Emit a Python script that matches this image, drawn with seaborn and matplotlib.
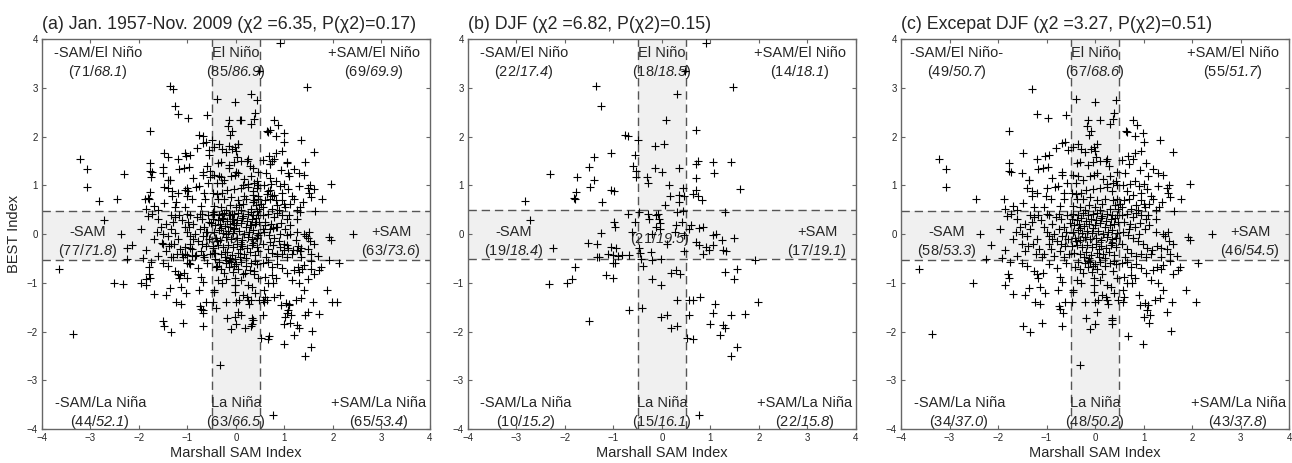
import matplotlib
matplotlib.use("Agg")
import matplotlib.pyplot as plt
import numpy as np
import pandas as pd
import seaborn as sns

# Marshall SAM index vs BEST index, monthly values
# December-January-February months
djf_points = [
    # -SAM / El Nino
    (-1.37, 3.04), (-1.25, 2.63), (-0.77, 2.03), (-0.69, 2.01), (-1.05, 1.67), (-0.56, 1.62),
    (-1.40, 1.57), (-1.51, 1.38), (-1.41, 1.11), (-1.48, 0.96), (-2.31, 1.23), (-1.76, 1.18),
    (-1.78, 0.86), (-1.82, 0.73), (-1.80, 0.71), (-1.24, 0.66), (-2.83, 0.68), (-1.05, 0.90),
    (-0.98, 0.88), (-0.59, 1.40), (-0.53, 1.30), (-0.53, 1.18),
    # El Nino
    (0.31, 2.87), (0.09, 2.33), (-0.49, 1.93), (-0.15, 1.81), (0.05, 1.84), (-0.31, 1.18),
    (-0.29, 1.04), (-0.15, 1.35), (0.00, 1.28), (0.35, 1.35), (0.15, 1.00), (0.43, 0.94),
    (0.36, 0.80), (0.17, 0.79), (0.35, 0.65), (0.07, 0.60), (0.48, 3.35), (0.45, 0.78),
    # +SAM / El Nino
    (0.90, 3.92), (1.46, 3.01), (0.70, 2.14), (0.74, 1.49), (0.70, 1.44), (0.70, 1.14),
    (1.06, 1.47), (1.08, 1.25), (1.43, 1.48), (1.61, 0.92), (0.64, 0.82), (0.70, 0.90),
    (0.74, 0.77), (0.83, 0.70),
    # -SAM
    (-2.73, 0.29), (-0.70, 0.42), (-0.98, 0.25), (-0.97, 0.15), (-1.25, 0.03), (-2.24, -0.29),
    (-1.53, -0.18), (-1.34, -0.21), (-1.34, -0.47), (-1.05, -0.26), (-0.94, -0.28), (-1.12, -0.40),
    (-1.01, -0.43), (-0.91, -0.45), (-0.83, -0.44), (-0.67, -0.43), (-1.30, -0.47), (-0.55, 0.25),
    (-0.62, 0.05),
    # neutral
    (-0.48, 0.46), (-0.29, 0.42), (-0.09, 0.42), (0.31, 0.46), (0.44, 0.47), (-0.26, 0.31),
    (-0.12, 0.38), (-0.07, 0.30), (-0.05, 0.22), (-0.12, 0.15), (-0.04, 0.11), (0.29, 0.18),
    (0.42, 0.24), (0.46, -0.02), (0.26, 0.05), (-0.48, -0.29), (-0.46, -0.38), (-0.22, -0.36),
    (0.46, -0.34), (-0.20, 0.00), (0.10, -0.20),
    # +SAM
    (1.31, 0.45), (0.60, 0.18), (0.77, 0.13), (0.84, 0.15), (1.05, -0.02), (1.12, 0.00),
    (1.23, -0.12), (1.49, -0.08), (0.71, -0.16), (0.76, -0.23), (0.91, -0.26), (1.05, -0.23),
    (0.98, -0.33), (0.84, -0.40), (1.25, -0.33), (1.32, -0.35), (0.55, 0.10),
    # -SAM / La Nina
    (-0.97, -0.59), (-1.01, -0.60), (-1.80, -0.67), (-2.33, -1.03), (-1.96, -1.00), (-1.85, -0.92),
    (-1.15, -0.84), (-1.01, -0.91), (-1.51, -1.78), (-0.67, -1.56),
    # La Nina
    (-0.43, -0.52), (-0.20, -0.53), (-0.02, -0.52), (0.31, -1.88), (-0.40, -0.66), (-0.41, -1.51),
    (-0.20, -0.93), (-0.02, -1.05), (0.19, -0.79), (0.29, -0.73), (0.37, -0.82), (0.31, -1.36),
    (-0.02, -1.71), (0.10, -1.66), (0.19, -1.92),
    # +SAM / La Nina
    (1.91, -0.53), (0.51, -2.14), (0.65, -2.16), (0.55, -1.36), (0.64, -1.36), (0.79, -1.30),
    (0.56, -1.66), (1.10, -1.44), (1.05, -1.62), (1.00, -1.84), (1.25, -1.87), (1.29, -1.92),
    (1.20, -2.08), (1.43, -1.66), (1.72, -1.64), (1.99, -1.39), (1.55, -2.32), (1.43, -2.51),
    (1.29, -0.77), (1.55, -0.71), (1.48, -0.93), (0.76, -3.72),
]

# all other months
other_points = [
    # -SAM / El Nino
    (-1.29, 2.97), (-1.19, 2.46), (-0.98, 2.38), (-0.60, 2.45), (-1.77, 2.12), (-3.21, 1.53),
    (-3.07, 1.33), (-3.08, 0.97), (-1.48, 1.67), (-1.77, 1.45), (-1.77, 1.30), (-1.74, 1.28),
    (-1.20, 1.53), (-1.03, 1.60), (-0.94, 1.62), (-0.80, 1.76), (-0.69, 1.86), (-0.62, 1.88),
    (-1.51, 1.25), (-1.37, 1.11), (-1.17, 1.33), (-1.08, 1.35), (-0.96, 1.38), (-1.41, 0.94),
    (-1.31, 0.89), (-1.20, 0.84), (-1.31, 0.77), (-1.00, 0.94), (-1.01, 0.77), (-0.82, 0.97),
    (-0.76, 0.99), (-0.65, 0.84), (-0.64, 0.71), (-0.68, 1.28), (-0.68, 1.21), (-2.45, 0.71),
    (-1.88, 0.71), (-1.48, 0.63), (-0.55, 1.72), (-1.36, 1.10), (-0.90, 0.72), (-1.05, 0.56),
    (-1.85, 0.52), (-1.70, 0.58), (-0.72, 0.58), (-1.25, 0.55), (-0.58, 1.05), (-0.88, 1.15),
    (-1.60, 0.50),
    # El Nino
    (-0.39, 2.77), (-0.01, 2.70), (0.43, 2.74), (0.39, 2.49), (-0.14, 2.33), (0.10, 2.33),
    (0.30, 2.26), (0.38, 2.36), (-0.17, 2.21), (-0.09, 2.12), (-0.12, 2.03),
    (-0.45, 1.78), (-0.35, 1.85), (-0.28, 1.75), (-0.20, 1.68), (-0.08, 1.75), (-0.03, 1.78),
    (0.05, 1.85), (0.00, 1.70), (0.03, 1.58), (0.24, 1.53), (0.23, 1.49), (-0.38, 1.45),
    (-0.30, 1.48), (-0.15, 1.42), (-0.05, 1.48), (0.10, 1.50), (0.28, 1.40), (0.45, 1.28),
    (-0.45, 1.22), (-0.35, 1.20), (-0.10, 1.20), (-0.03, 1.22), (0.05, 1.25), (0.16, 1.12),
    (0.30, 1.20), (0.44, 1.08), (-0.25, 1.10), (-0.40, 1.05), (0.38, 1.05), (0.25, 1.02),
    (-0.48, 0.85), (-0.40, 0.82), (-0.28, 0.85), (-0.18, 0.90), (-0.05, 0.92), (0.10, 0.95),
    (0.25, 0.97), (0.35, 0.88), (0.45, 1.00), (-0.38, 0.72), (-0.25, 0.72), (-0.10, 0.75),
    (0.05, 0.70), (0.20, 0.72), (0.38, 0.70), (0.46, 0.72), (-0.45, 0.58), (-0.30, 0.55),
    (-0.12, 0.60), (0.00, 0.55), (0.15, 0.62), (0.30, 0.52), (0.42, 0.60), (-0.20, 0.50),
    (0.10, 0.50), (0.48, 0.52),
    # +SAM / El Nino
    (0.63, 2.12), (0.65, 2.10), (0.79, 2.34), (0.86, 2.24), (0.83, 2.01), (0.99, 2.08),
    (1.00, 1.88), (1.34, 1.93), (1.60, 1.69), (0.55, 1.52), (0.71, 1.44), (0.78, 1.53),
    (0.83, 1.67), (1.19, 1.33), (1.29, 1.26), (1.41, 1.21), (0.58, 1.00), (0.72, 1.02),
    (0.82, 1.08), (0.90, 0.98), (1.00, 1.02), (1.08, 0.92), (0.65, 0.88), (0.78, 0.80),
    (0.95, 0.85), (1.15, 0.78), (1.30, 0.98), (1.48, 0.95), (1.50, 0.85), (1.52, 1.00),
    (1.55, 0.75), (1.77, 0.71), (1.95, 1.02), (1.62, 0.48), (0.60, 0.70), (0.70, 0.72),
    (0.85, 0.60), (0.95, 0.70), (1.02, 0.55), (1.12, 0.62), (1.20, 0.72), (0.55, 0.55),
    (0.75, 0.52), (0.88, 0.50), (1.25, 0.50), (1.32, 0.55), (0.62, 1.25), (0.92, 1.32),
    (1.05, 1.45), (0.68, 1.60), (0.95, 1.70), (1.10, 1.20), (1.38, 0.65), (0.52, 0.62),
    (1.00, 0.62),
    # -SAM
    (-2.38, 0.00), (-2.15, -0.23), (-2.25, -0.52), (-1.92, -0.50), (-1.86, -0.32), (-1.82, 0.36),
    (-1.74, 0.42), (-1.60, 0.30), (-1.55, 0.15), (-1.45, 0.20), (-1.50, 0.00), (-1.40, -0.05),
    (-1.35, 0.10), (-1.30, 0.25), (-1.25, 0.35), (-1.18, 0.40), (-1.12, 0.28), (-1.05, 0.15),
    (-1.00, 0.05), (-0.95, -0.05), (-1.20, -0.10), (-1.28, -0.20), (-1.38, -0.25), (-1.45, -0.35),
    (-1.15, -0.30), (-1.05, -0.40), (-0.95, -0.20), (-0.88, 0.20), (-0.80, 0.35), (-0.75, 0.42),
    (-0.70, 0.30), (-0.65, 0.15), (-0.60, 0.05), (-0.55, -0.10), (-0.62, -0.25), (-0.72, -0.35),
    (-0.85, -0.45), (-0.90, -0.30), (-0.78, -0.15), (-0.68, -0.05), (-0.58, 0.40), (-0.85, 0.00),
    (-1.10, -0.48), (-1.60, -0.45), (-1.70, -0.10), (-1.95, 0.10), (-0.53, -0.40), (-0.65, -0.48),
    (-0.95, 0.38), (-1.50, -0.20), (-1.62, 0.05), (-0.75, 0.10), (-0.52, 0.22), (-1.00, 0.42),
    (-1.22, -0.42), (-0.70, -0.20), (-0.88, -0.10), (-1.35, 0.40),
    # neutral
    (-0.45, 0.42), (-0.35, 0.40), (-0.25, 0.44), (-0.15, 0.38), (-0.05, 0.41), (0.05, 0.43),
    (0.15, 0.37), (0.25, 0.42), (0.35, 0.40), (0.45, 0.38), (-0.48, 0.30), (-0.38, 0.28),
    (-0.28, 0.33), (-0.18, 0.27), (-0.08, 0.31), (0.02, 0.29), (0.12, 0.32), (0.22, 0.26),
    (0.32, 0.30), (0.42, 0.33), (-0.44, 0.18), (-0.33, 0.21), (-0.22, 0.16), (-0.12, 0.20),
    (0.00, 0.18), (0.10, 0.22), (0.20, 0.15), (0.30, 0.19), (0.40, 0.21), (-0.46, 0.05),
    (-0.36, 0.08), (-0.26, 0.02), (-0.16, 0.06), (-0.06, 0.03), (0.06, 0.07), (0.16, 0.01),
    (0.26, 0.05), (0.36, 0.09), (0.46, 0.02), (-0.42, -0.08), (-0.32, -0.12), (-0.20, -0.06),
    (-0.10, -0.10), (0.02, -0.08), (0.12, -0.13), (0.24, -0.07), (0.34, -0.11), (0.44, -0.09),
    (-0.47, -0.24), (-0.37, -0.22), (-0.27, -0.27), (-0.17, -0.23), (-0.07, -0.26), (0.03, -0.21),
    (0.13, -0.25), (0.23, -0.28), (0.33, -0.22), (0.43, -0.26), (-0.43, -0.38), (-0.30, -0.42),
    (-0.18, -0.36), (-0.08, -0.44), (0.04, -0.39), (0.16, -0.41), (0.28, -0.37), (0.40, -0.43),
    (-0.12, -0.50), (0.08, -0.48), (-0.22, -0.47), (0.20, -0.49), (-0.05, 0.12), (0.08, -0.30),
    (-0.30, 0.12), (0.35, -0.18), (0.48, 0.25), (-0.40, -0.15),
    # +SAM
    (1.92, -0.07), (1.96, -0.12), (2.41, 0.00), (1.50, 0.05), (0.55, 0.40), (0.65, 0.42),
    (0.78, 0.35), (0.85, 0.44), (0.95, 0.38), (1.05, 0.30), (0.60, 0.25), (0.72, 0.20),
    (0.82, 0.15), (0.92, 0.22), (1.02, 0.10), (1.12, 0.18), (1.25, 0.05), (1.40, 0.00),
    (1.45, -0.05), (0.58, 0.05), (0.68, -0.02), (0.78, -0.08), (0.88, -0.15), (0.98, -0.20),
    (1.08, -0.28), (1.18, -0.32), (1.28, -0.25), (1.35, -0.28), (1.48, -0.30), (0.55, -0.20),
    (0.65, -0.30), (0.75, -0.38), (0.85, -0.45), (0.95, -0.42), (1.05, -0.48), (1.15, -0.40),
    (1.35, -0.48), (1.55, -0.40), (1.70, -0.45), (0.62, -0.48), (1.25, 0.30), (0.70, 0.10),
    (1.60, -0.20), (0.90, 0.00), (1.10, 0.40), (1.52, -0.15),
    # -SAM / La Nina
    (-3.64, -0.71), (-3.37, -2.05), (-2.52, -1.01), (-1.86, -1.05), (-1.79, -0.81), (-1.77, -0.91),
    (-1.70, -1.23), (-1.49, -1.89), (-1.34, -2.01), (-1.44, -1.25), (-1.37, -1.10), (-1.24, -1.39),
    (-1.13, -1.44), (-1.20, -0.81), (-1.17, -0.91), (-1.07, -0.79), (-1.13, -1.08), (-1.10, -1.82),
    (-1.03, -1.22), (-0.77, -1.15), (-0.72, -0.88), (-0.69, -0.98), (-0.74, -1.48), (-0.72, -1.53),
    (-0.67, -1.62), (-0.69, -1.88), (-0.62, -1.39), (-1.75, -0.58), (-1.40, -0.65), (-0.95, -0.62),
    (-0.78, -0.70), (-0.60, -0.60), (-1.25, -0.75), (-1.50, -0.60),
    # La Nina
    (-0.45, -1.19), (-0.46, -1.14), (-0.41, -0.67), (-0.31, -0.71), (-0.32, -2.69), (-0.47, -1.40),
    (-0.19, -1.73), (-0.10, -1.95), (0.00, -1.84), (0.05, -1.60), (0.00, -1.39), (0.07, -1.36),
    (-0.03, -1.05), (-0.03, -1.18), (-0.03, -0.91), (-0.07, -0.77), (0.27, -1.44), (0.25, -1.36),
    (0.34, -1.73), (0.36, -1.77), (0.34, -1.84), (0.32, -1.08), (0.25, -1.05), (-0.20, -0.60),
    (-0.10, -0.58), (0.00, -0.62), (0.10, -0.57), (0.20, -0.65), (0.30, -0.60), (0.40, -0.56),
    (-0.35, -0.58), (-0.25, -0.80), (-0.15, -0.68), (0.05, -0.72), (0.15, -0.82), (0.38, -0.75),
    (0.45, -0.90), (0.15, -1.25), (0.40, -1.20), (-0.20, -1.40), (-0.38, -0.95), (0.10, -0.95),
    (-0.15, -0.55), (0.44, -0.62), (-0.05, -0.65), (0.22, -1.30), (0.47, -1.35), (-0.28, -1.00),
    # +SAM / La Nina
    (0.69, -2.10), (0.99, -2.26), (2.13, -0.59), (0.57, -1.39), (0.58, -1.15), (0.60, -0.88),
    (0.74, -0.84), (0.65, -1.01), (0.76, -1.00), (0.74, -0.67), (0.91, -1.25), (0.93, -1.46),
    (1.03, -1.41), (1.01, -1.70), (1.07, -1.56), (1.10, -1.46), (1.13, -1.66), (1.12, -1.82),
    (1.24, -1.36), (1.34, -1.32), (1.41, -1.15), (1.48, -1.60), (1.58, -1.39), (1.56, -1.99),
    (1.88, -1.14), (2.08, -1.39), (1.20, -0.74), (1.27, -0.67), (1.37, -0.71), (1.41, -0.64),
    (1.60, -0.81), (1.72, -0.74), (1.75, -0.67), (0.55, -0.60), (0.65, -0.58), (0.85, -0.62),
    (0.95, -0.70), (1.05, -0.80), (0.82, -0.90), (1.15, -0.95), (1.30, -1.00), (0.60, -1.30),
    (1.55, -0.56),
]

region_names = ["-SAM/El Niño", "El Niño", "+SAM/El Niño",
                "-SAM", "", "+SAM",
                "-SAM/La Niña", "La Niña", "+SAM/La Niña"]

titles = ["(a) Jan. 1957-Nov. 2009 (χ2 =6.35, P(χ2)=0.17)",
          "(b) DJF (χ2 =6.82, P(χ2)=0.15)",
          "(c) Excepat DJF (χ2 =3.27, P(χ2)=0.51)"]

observed = [[71, 85, 69, 77, 97, 63, 44, 63, 65],
            [22, 18, 14, 19, 21, 17, 10, 15, 22],
            [49, 67, 55, 58, 76, 46, 34, 48, 43]]
expected = [[68.1, 86.9, 69.9, 71.8, 91.3, 73.6, 52.1, 66.5, 53.4],
            [17.4, 18.5, 18.1, 18.4, 19.5, 19.1, 15.2, 16.1, 15.8],
            [50.7, 68.6, 51.7, 53.3, 72.2, 54.5, 37.0, 50.2, 37.8]]

# BEST thresholds (lower, upper) and SAM thresholds
best_bounds = [(-0.53, 0.47), (-0.51, 0.50), (-0.53, 0.47)]
sam_bounds = (-0.5, 0.5)

djf = pd.DataFrame(djf_points, columns=["sam", "best"])
other = pd.DataFrame(other_points, columns=["sam", "best"])
panels = [pd.concat([djf, other], ignore_index=True), djf, other]

sns.set_style("ticks", {"xtick.direction": "in", "ytick.direction": "in",
                        "axes.edgecolor": "#666666"})
plt.rcParams["font.family"] = ["Liberation Sans", "DejaVu Sans"]
plt.rcParams["mathtext.fontset"] = "custom"
plt.rcParams["mathtext.rm"] = "Liberation Sans"
# \mathsf is used only for the italic expected counts
plt.rcParams["mathtext.sf"] = "Liberation Sans:italic"

fig = plt.figure(figsize=(12.92, 4.63), dpi=100)
lefts = [0.0325, 0.3622, 0.6974]

# text positions for the nine class labels
name_xy = [(-2.85, 3.72), (0, 3.72), (2.85, 3.72),
           (-3.05, 0.04), None, (3.2, 0.04),
           (-2.8, -3.47), (0, -3.47), (2.95, -3.47)]

for i, df in enumerate(panels):
    ax = fig.add_axes([lefts[i], 0.0734, 0.3003, 0.8423])
    lo, hi = best_bounds[i]
    ax.axvspan(sam_bounds[0], sam_bounds[1], color="#f0f0f0", lw=0, zorder=0)
    ax.axhspan(lo, hi, color="#f0f0f0", lw=0, zorder=0)
    for v in sam_bounds:
        ax.axvline(v, color="#555555", lw=1, ls=(0, (6, 3.5)), zorder=1)
    for v in (lo, hi):
        ax.axhline(v, color="#555555", lw=1, ls=(0, (6, 3.5)), zorder=1)

    sns.scatterplot(data=df, x="sam", y="best", marker="+", color="black",
                    s=38, linewidth=0.8, ax=ax, zorder=3)

    names = list(region_names)
    if i == 2:
        names[0] = "-SAM/El Niño-"
    for k in range(9):
        count = f"({observed[i][k]}/$\\mathsf{{{expected[i][k]:.1f}}}$)"
        if k == 4:
            ax.text(-0.05, -0.1, count, ha="center", va="center", fontsize=10.5, zorder=2)
            continue
        x, y = name_xy[k]
        ax.text(x, y, names[k], ha="center", va="center", fontsize=10.5, zorder=2)
        ax.text(x, y - 0.39, count, ha="center", va="center", fontsize=10.5, zorder=2)

    ax.set_xlim(-4, 4)
    ax.set_ylim(-4, 4)
    ax.set_xticks(range(-4, 5))
    ax.set_yticks(range(-4, 5))
    ax.tick_params(labelsize=7, length=3, width=0.8, color="#666666",
                   top=True, right=True, pad=3)
    for sp in ax.spines.values():
        sp.set_linewidth(1)
    ax.set_xlabel("Marshall SAM Index", fontsize=10.5, labelpad=2)
    ax.set_ylabel("BEST Index" if i == 0 else "", fontsize=10.5, labelpad=4)
    ax.set_title(titles[i], loc="left", fontsize=12.8, pad=7)

fig.savefig("out.png", dpi=100)
